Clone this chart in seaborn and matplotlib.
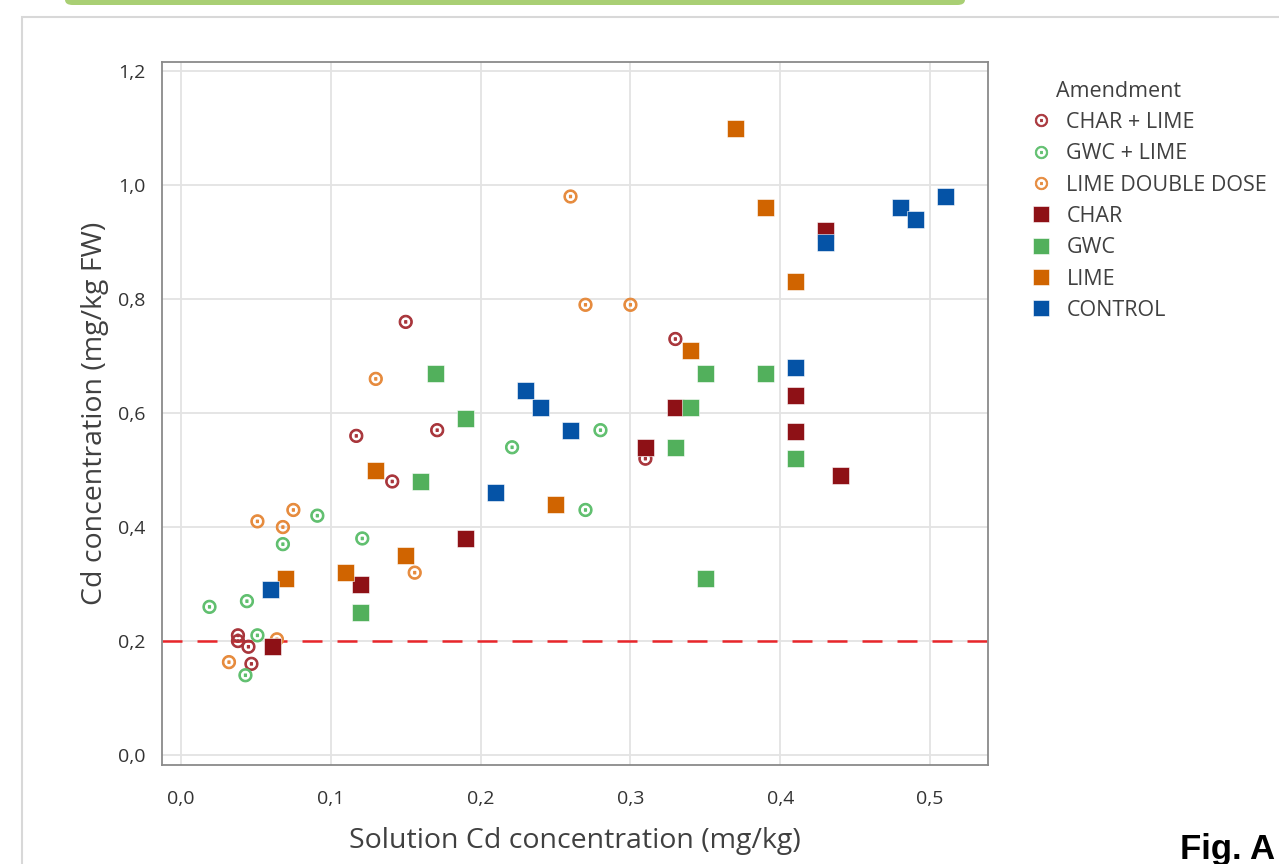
import matplotlib
matplotlib.use("Agg")
import matplotlib.pyplot as plt
import matplotlib.ticker as ticker
from matplotlib.lines import Line2D
from matplotlib.patches import FancyBboxPatch, Rectangle
import seaborn as sns
import pandas as pd

# values (x = solution Cd, y = Cd in plant)
char_lime_x = [0.15, 0.117, 0.171, 0.141, 0.33, 0.31, 0.038, 0.038, 0.045, 0.047]
char_lime_y = [0.76, 0.56, 0.57, 0.48, 0.73, 0.52, 0.21, 0.20, 0.19, 0.16]
gwc_lime_x = [0.019, 0.044, 0.068, 0.091, 0.121, 0.221, 0.28, 0.27, 0.051, 0.043]
gwc_lime_y = [0.26, 0.27, 0.37, 0.42, 0.38, 0.54, 0.57, 0.43, 0.21, 0.14]
lime_dd_x = [0.26, 0.27, 0.30, 0.13, 0.051, 0.068, 0.075, 0.156, 0.032, 0.064]
lime_dd_y = [0.98, 0.79, 0.79, 0.66, 0.41, 0.40, 0.43, 0.32, 0.163, 0.203]
char_x = [0.061, 0.12, 0.19, 0.31, 0.33, 0.43, 0.41, 0.41, 0.44]
char_y = [0.19, 0.30, 0.38, 0.54, 0.61, 0.92, 0.63, 0.567, 0.49]
gwc_x = [0.17, 0.19, 0.16, 0.12, 0.33, 0.34, 0.35, 0.39, 0.41, 0.35]
gwc_y = [0.67, 0.59, 0.48, 0.25, 0.54, 0.61, 0.67, 0.67, 0.52, 0.31]
lime_x = [0.37, 0.39, 0.41, 0.34, 0.25, 0.13, 0.15, 0.11, 0.07]
lime_y = [1.10, 0.96, 0.83, 0.71, 0.44, 0.50, 0.35, 0.32, 0.31]
control_x = [0.51, 0.48, 0.49, 0.43, 0.41, 0.23, 0.24, 0.26, 0.21, 0.06]
control_y = [0.98, 0.96, 0.94, 0.90, 0.68, 0.64, 0.61, 0.57, 0.46, 0.29]

limit_y = 0.2

hollow_groups = ["CHAR + LIME", "GWC + LIME", "LIME DOUBLE DOSE"]
square_groups = ["CHAR", "GWC", "LIME", "CONTROL"]
colors = {
    "CHAR + LIME": "#a8343a",
    "GWC + LIME": "#5fbf6e",
    "LIME DOUBLE DOSE": "#e68a3c",
    "CHAR": "#8e1116",
    "GWC": "#52b05c",
    "LIME": "#d06400",
    "CONTROL": "#0553a6",
}

series = [
    ("CHAR + LIME", char_lime_x, char_lime_y),
    ("GWC + LIME", gwc_lime_x, gwc_lime_y),
    ("LIME DOUBLE DOSE", lime_dd_x, lime_dd_y),
    ("CHAR", char_x, char_y),
    ("GWC", gwc_x, gwc_y),
    ("LIME", lime_x, lime_y),
    ("CONTROL", control_x, control_y),
]
rows = []
for name, xs, ys in series:
    for x, y in zip(xs, ys):
        rows.append({"Amendment": name, "x": x, "y": y})
df = pd.DataFrame(rows)

sns.set_style("white")
plt.rcParams["font.family"] = ["Open Sans", "DejaVu Sans"]

fig = plt.figure(figsize=(12.79, 8.64), dpi=100)

# page decoration: green tab at the top and light panel border
fig.patches.append(FancyBboxPatch((65 / 1279, 864 / 864 - 5 / 864), 900 / 1279, 12 / 864,
                                  boxstyle="round,pad=0,rounding_size=0.006",
                                  transform=fig.transFigure, facecolor="#a9cf74",
                                  edgecolor="none", zorder=0))
fig.patches.append(Rectangle((22 / 1279, -0.05), 1.1, 1 - 17 / 864 + 0.05,
                             transform=fig.transFigure, facecolor="none",
                             edgecolor="#d8d8d8", linewidth=1.5, zorder=0))

ax = fig.add_axes([162 / 1279, 1 - 765 / 864, (988 - 162) / 1279, (765 - 62) / 864])

ax.axhline(limit_y, color="#e8262b", linestyle=(0, (8, 6)), linewidth=1.8, zorder=1)

sns.scatterplot(data=df[df["Amendment"].isin(hollow_groups)], x="x", y="y",
                hue="Amendment", palette=colors, marker="$\\odot$", s=90,
                edgecolor="face", linewidth=0.8, legend=False, ax=ax, zorder=3)
sns.scatterplot(data=df[df["Amendment"].isin(square_groups)], x="x", y="y",
                hue="Amendment", palette=colors, marker="s", s=150,
                edgecolor="white", linewidth=0.4, legend=False, ax=ax, zorder=4)

ax.set_xlim(-0.0127, 0.5387)
ax.set_ylim(-0.0175, 1.216)
ax.xaxis.set_major_locator(ticker.MultipleLocator(0.1))
ax.yaxis.set_major_locator(ticker.MultipleLocator(0.2))
ax.yaxis.set_minor_locator(ticker.MultipleLocator(0.1))
comma = ticker.FuncFormatter(lambda v, p: f"{v:.1f}".replace(".", ","))
ax.xaxis.set_major_formatter(comma)
ax.yaxis.set_major_formatter(comma)

ax.grid(True, which="major", color="#e3e3e3", linewidth=1.3, zorder=0)
ax.set_axisbelow(True)
for sp in ax.spines.values():
    sp.set_color("#8a8a8a")
    sp.set_linewidth(1.3)
ax.tick_params(axis="both", which="major", direction="out", length=6, width=1.2,
               color="#8a8a8a", labelsize=14, labelcolor="#333333", pad=6)
ax.tick_params(axis="x", which="major", pad=12)
ax.tick_params(axis="y", which="minor", direction="out", length=3, width=1.0,
               color="#8a8a8a")

ax.set_xlabel("Solution Cd concentration (mg/kg)", fontsize=20.5, color="#404040", labelpad=14)
ax.set_ylabel("Cd concentration (mg/kg FW)", fontsize=20.5, color="#404040", labelpad=6)

handles = []
for name in hollow_groups:
    handles.append(Line2D([], [], linestyle="none", marker="$\\odot$", markersize=9,
                          color=colors[name], markeredgewidth=0.6))
for name in square_groups:
    handles.append(Line2D([], [], linestyle="none", marker="s", markersize=12,
                          color=colors[name], markeredgecolor="white", markeredgewidth=0.4))
leg = ax.legend(handles, hollow_groups + square_groups, title="Amendment",
                loc="upper left", bbox_to_anchor=(1.035, 0.995), frameon=False,
                fontsize=15.5, title_fontsize=15.5, handletextpad=0.8,
                labelspacing=0.48, borderaxespad=0.3, handlelength=0.8)
for t in leg.get_texts():
    t.set_color("#404040")
leg.get_title().set_color("#404040")
leg._legend_box.align = "left"
leg.get_title().set_position((24, 0))

fig.text(1180 / 1279, 5 / 864, "Fig. A", fontsize=25, fontweight="bold",
         family=["Liberation Sans", "DejaVu Sans"], color="black", va="baseline")

fig.savefig("out.png", dpi=100)
